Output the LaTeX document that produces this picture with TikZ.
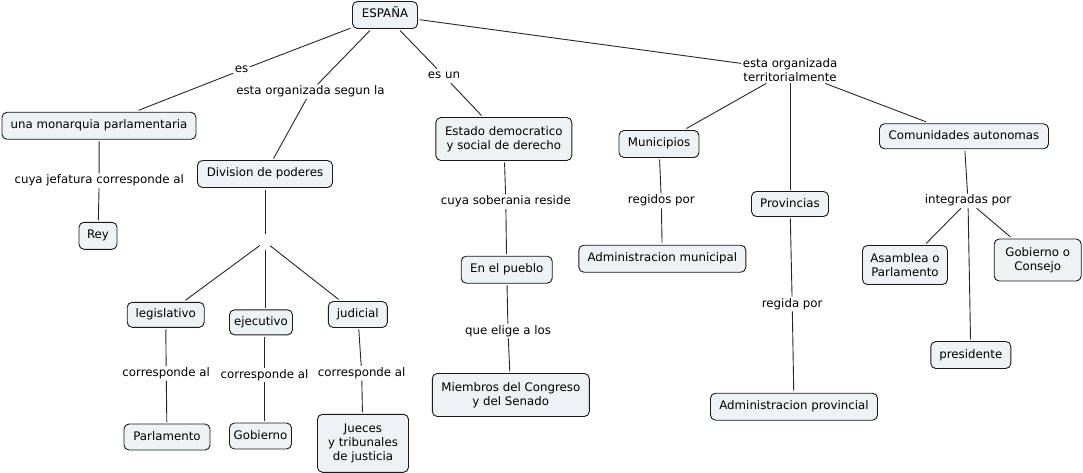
\documentclass[tikz,border=0pt]{standalone}
\usepackage{fontspec}
\setmainfont{DejaVu Sans}
\definecolor{boxfill}{HTML}{EDF2F5}
\newcommand\mapfont{\fontsize{11.8}{14.3}\selectfont}
\begin{document}
\begin{tikzpicture}[x=1pt,y=-1pt,
  cbox/.style 2 args={draw=black!90, fill=boxfill, rounded corners=5pt, line width=0.9pt,
    minimum width=#1, minimum height=#2, inner sep=0pt, outer sep=2pt, align=center, font=\mapfont},
  lnk/.style={inner sep=1.5pt, align=center, font=\mapfont},
  oneline/.style={text height=8.6pt, text depth=2.6pt},
  conn/.style={draw=black!85, line width=0.9pt}]
\useasboundingbox (0,0) rectangle (1083,473);
% concepts
\node[cbox={65pt}{27pt},oneline] (E) at (385,15) {ESPAÑA};
\node[cbox={194pt}{27pt},oneline] (mon) at (99,125.8) {una monarquia parlamentaria};
\node[cbox={135pt}{27pt},oneline] (div) at (265,174) {Division de poderes};
\node[cbox={38pt}{27pt},oneline] (rey) at (98,235.8) {Rey};
\node[cbox={136pt}{43pt}] (est) at (503.8,139) {Estado democratico\\y social de derecho};
\node[cbox={91pt}{27pt},oneline] (pue) at (506.7,269.7) {En el pueblo};
\node[cbox={157pt}{43pt}] (miem) at (510.8,395) {Miembros del Congreso\\y del Senado};
\node[cbox={77pt}{25pt},oneline] (leg) at (165.7,314.8) {legislativo};
\node[cbox={63pt}{25pt},oneline] (eje) at (261,322.3) {ejecutivo};
\node[cbox={59pt}{26pt},oneline] (jud) at (357.8,314.5) {judicial};
\node[cbox={86pt}{26pt},oneline] (parl) at (167,437) {Parlamento};
\node[cbox={62pt}{26pt},oneline] (gob) at (260.5,436) {Gobierno};
\node[cbox={91pt}{58pt}] (jue) at (363,443.3) {Jueces\\y tribunales\\de justicia};
\node[cbox={80pt}{27pt},oneline] (mun) at (659,144) {Municipios};
\node[cbox={77pt}{25pt},oneline] (prov) at (790,204) {Provincias};
\node[cbox={169pt}{25pt},oneline] (com) at (964,136.3) {Comunidades autonomas};
\node[cbox={167pt}{27pt},oneline] (admm) at (662.3,258.7) {Administracion municipal};
\node[cbox={167pt}{27pt},oneline] (admp) at (794,406.7) {Administracion provincial};
\node[cbox={85pt}{39pt}] (asa) at (905,265) {Asamblea o\\Parlamento};
\node[cbox={87pt}{42pt}] (gobc) at (1037.7,260) {Gobierno o\\Consejo};
\node[cbox={80pt}{27pt},oneline] (pres) at (970.8,355) {presidente};
% linking phrases
\node[lnk,oneline] (es) at (241.5,70) {es};
\node[lnk,oneline] (seg) at (310.5,91.7) {esta organizada segun la};
\node[lnk,oneline] (esun) at (444,76) {es un};
\node[lnk] (terr) at (790,70) {esta organizada\\territorialmente};
\node[lnk,oneline] (jef) at (99.2,180.7) {cuya jefatura corresponde al};
\node[lnk,oneline] (sob) at (505.8,201.7) {cuya soberania reside};
\node[lnk,oneline] (eli) at (508,331) {que elige a los};
\node[lnk,oneline] (reg) at (661.3,201) {regidos por};
\node[lnk,oneline] (rga) at (792.2,304) {regida por};
\node[lnk,oneline] (int) at (968,201) {integradas por};
\node[lnk,oneline] (c1) at (166.2,373.3) {corresponde al};
\node[lnk,oneline] (c2) at (264.5,375) {corresponde al};
\node[lnk,oneline] (c3) at (361.7,373.3) {corresponde al};
\node[inner sep=0pt, minimum width=10pt, minimum height=16pt] (e0) at (265,241.7) {};
% connectors
\draw[conn] (E) -- (es) -- (mon);
\draw[conn] (E) -- (seg) -- (div);
\draw[conn] (E) -- (esun) -- (est);
\draw[conn] (E) -- (terr);
\draw[conn] (terr) -- (mun);
\draw[conn] (terr) -- (prov);
\draw[conn] (terr) -- (com);
\draw[conn] (mon) -- (jef) -- (rey);
\draw[conn] (div) -- (e0);
\draw[conn] (e0) -- (leg);
\draw[conn] (e0) -- (eje.north -| e0);
\draw[conn] (e0) -- (jud);
\draw[conn] (leg) -- (c1) -- (parl);
\draw[conn] (eje.south -| c2) -- (c2) -- (gob.north -| c2);
\draw[conn] (jud) -- (c3) -- (jue);
\draw[conn] (est) -- (sob) -- (pue);
\draw[conn] (pue) -- (eli) -- (miem);
\draw[conn] (mun) -- (reg) -- (admm);
\draw[conn] (prov) -- (rga) -- (admp);
\draw[conn] (com) -- (int);
\draw[conn] (int) -- (asa);
\draw[conn] (int) -- (pres);
\draw[conn] (int) -- (gobc);
\end{tikzpicture}
\end{document}
